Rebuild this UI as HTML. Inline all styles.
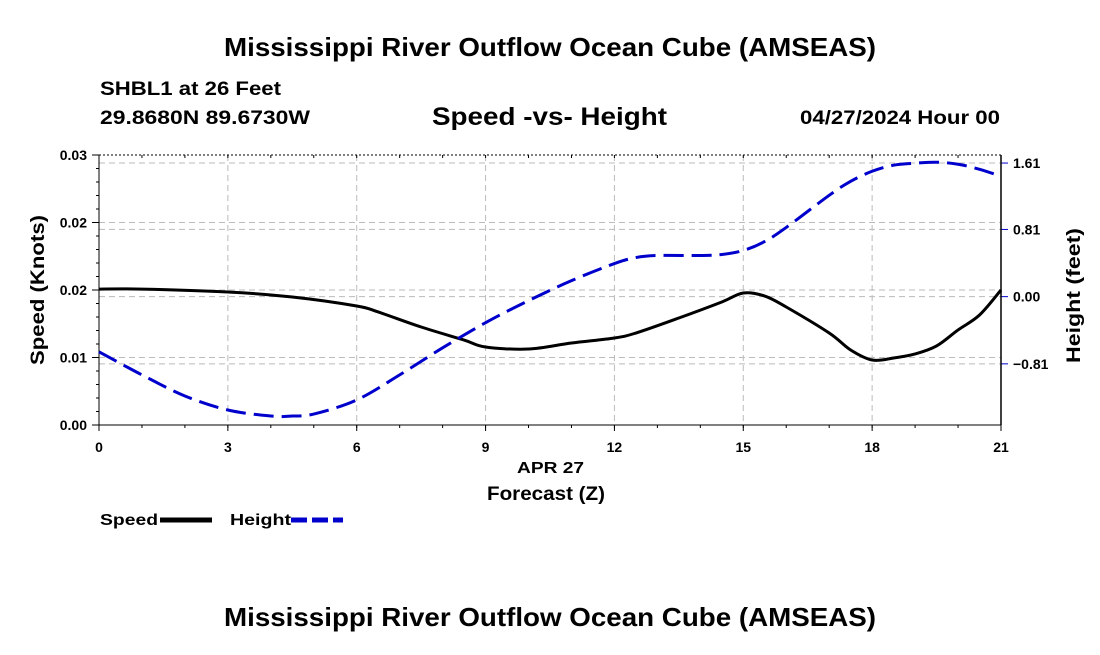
<!DOCTYPE html>
<html><head><meta charset="utf-8"><style>
body{margin:0;background:#fff;width:1100px;height:650px;overflow:hidden;font-family:"Liberation Sans",sans-serif}
</style></head><body>
<svg width="1100" height="650" font-family="Liberation Sans, sans-serif" font-weight="bold">
<text x="224" y="56" font-size="26" textLength="652" lengthAdjust="spacingAndGlyphs">Mississippi River Outflow Ocean Cube (AMSEAS)</text>
<text x="100" y="95" font-size="19" textLength="181" lengthAdjust="spacingAndGlyphs">SHBL1 at 26 Feet</text>
<text x="100" y="124" font-size="19" textLength="210" lengthAdjust="spacingAndGlyphs">29.8680N  89.6730W</text>
<text x="432" y="125" font-size="25" textLength="235" lengthAdjust="spacingAndGlyphs">Speed -vs- Height</text>
<text x="800" y="124" font-size="19" textLength="200" lengthAdjust="spacingAndGlyphs">04/27/2024 Hour 00</text>
<g id="grid"></g>
<g id="axes"></g>
<g id="series"></g>
<text x="517" y="473" font-size="16" textLength="67" lengthAdjust="spacingAndGlyphs">APR 27</text>
<text x="487" y="500" font-size="19" textLength="118" lengthAdjust="spacingAndGlyphs">Forecast (Z)</text>
<text transform="translate(44,365) rotate(-90)" font-size="19" textLength="150" lengthAdjust="spacingAndGlyphs">Speed (Knots)</text>
<text transform="translate(1080,363) rotate(-90)" font-size="19" textLength="135" lengthAdjust="spacingAndGlyphs">Height (feet)</text>
<g><text x="100" y="525" font-size="16" textLength="58" lengthAdjust="spacingAndGlyphs">Speed</text><line x1="160" y1="520" x2="212" y2="520" stroke="#000" stroke-width="5"/></g>
<g><text x="230" y="525" font-size="16" textLength="61" lengthAdjust="spacingAndGlyphs">Height</text><line x1="291" y1="520" x2="343" y2="520" stroke="#00c" stroke-width="5" stroke-dasharray="16,5"/></g>
<text x="224" y="626" font-size="26" textLength="652" lengthAdjust="spacingAndGlyphs">Mississippi River Outflow Ocean Cube (AMSEAS)</text>
</svg>
<script>
const hours=[0,1,3,4.5,6,6.5,7.5,8.5,9,10,11,12,12.5,13.5,14.5,15,15.5,16,17,17.5,18,18.5,19,19.5,20,20.5,21];
const speed=[0.0151,0.0151,0.01478,0.01422,0.01322,0.01256,0.01089,0.00944,0.00867,0.00844,0.00911,0.00967,0.01022,0.01189,0.01367,0.01467,0.01433,0.01311,0.01022,0.00833,0.00722,0.00744,0.00789,0.00878,0.01056,0.01222,0.015];
const hHours=[0,1,2,3,4,4.5,5,6,7,8,9,10,11,12,12.5,13,14,14.5,15,15.5,16,17,17.5,18,18.5,19,19.5,20,20.5,21];
const height=[-0.665,-0.943,-1.197,-1.366,-1.439,-1.439,-1.415,-1.245,-0.943,-0.617,-0.314,-0.048,0.193,0.399,0.471,0.496,0.496,0.508,0.556,0.665,0.834,1.221,1.39,1.511,1.584,1.608,1.62,1.596,1.535,1.451];
const xTicks=[0,3,6,9,12,15,18,21];
const yTicks=[0,0.0075,0.015,0.0225,0.03];
const yTickLabels=["0.00","0.01","0.02","0.02","0.03"];
const y2Ticks=[-0.81,0,0.81,1.61];
const y2TickLabels=["\u22120.81","0.00","0.81","1.61"];
const X0=99,X1=1001,Y0=425,Y1=155;
const H0=-1.547,H1=1.707;
const xs=h=>X0+(h/21)*(X1-X0);
const ys=v=>Y0-(v/0.03)*(Y0-Y1);
const y2s=v=>Y0-(v-H0)/(H1-H0)*(Y0-Y1);
const NS="http://www.w3.org/2000/svg";
function mk(p,tag,a){const e=document.createElementNS(NS,tag);for(const k in a)e.setAttribute(k,a[k]);p.appendChild(e);return e;}
const grid=document.getElementById('grid'),axes=document.getElementById('axes'),ser=document.getElementById('series');
xTicks.forEach(t=>{
 if(t>0&&t<21){const l=mk(grid,'line',{x1:xs(t),x2:xs(t),y1:Y1,y2:Y0,stroke:'#bbb','stroke-dasharray':'6,4'});
 
 }
 const tx=mk(axes,'text',{x:xs(t),y:452,'text-anchor':'middle','font-size':14});tx.textContent=t;
 
 
 mk(axes,'line',{x1:xs(t),x2:xs(t),y1:Y0,y2:Y0+6,stroke:'#000'});
});
for(let h=1;h<21;h++){mk(axes,'line',{x1:xs(h),x2:xs(h),y1:Y0,y2:Y0+3,stroke:'#000'});mk(axes,'line',{x1:xs(h),x2:xs(h),y1:Y1,y2:Y1+3,stroke:'#000'});}
yTicks.forEach((t,i)=>{
 if(t>0&&t<0.03){const l=mk(grid,'line',{x1:X0,x2:X1,y1:ys(t),y2:ys(t),stroke:'#bbb','stroke-dasharray':'6,4'});
 
 }
 mk(axes,'line',{x1:X0-7,x2:X0,y1:ys(t),y2:ys(t),stroke:'#000'});
 const tx=mk(axes,'text',{x:X0-12,y:ys(t)+5,'text-anchor':'end','font-size':14});tx.textContent=yTickLabels[i];
 
 
});
for(let v=0;v<=0.03;v+=0.0015){mk(axes,'line',{x1:X0-3,x2:X0,y1:ys(v),y2:ys(v),stroke:'#000'});}
y2Ticks.forEach((t,i)=>{
 const l=mk(grid,'line',{x1:X0,x2:X1,y1:y2s(t),y2:y2s(t),stroke:'#bbb','stroke-dasharray':'6,4'});
 
 
 mk(axes,'line',{x1:X1,x2:X1+7,y1:y2s(t),y2:y2s(t),stroke:'#00c'});
 const tx=mk(axes,'text',{x:X1+12,y:y2s(t)+5,'font-size':14});tx.textContent=y2TickLabels[i];
 
 
});
mk(axes,'line',{x1:X0,x2:X1,y1:Y1,y2:Y1,stroke:'#000','stroke-dasharray':'2,2'});
mk(axes,'line',{x1:X0,x2:X1,y1:Y0,y2:Y0,stroke:'#000'});
mk(axes,'line',{x1:X0,x2:X0,y1:Y1,y2:Y0,stroke:'#000'});
mk(axes,'line',{x1:X1,x2:X1,y1:Y1,y2:Y0,stroke:'#000','stroke-width':1.5});
function smooth(pts){let d=`M${pts[0][0]},${pts[0][1]}`;for(let i=0;i<pts.length-1;i++){const p0=pts[Math.max(0,i-1)],p1=pts[i],p2=pts[i+1],p3=pts[Math.min(pts.length-1,i+2)];
 d+=` C${p1[0]+(p2[0]-p0[0])/6},${p1[1]+(p2[1]-p0[1])/6} ${p2[0]-(p3[0]-p1[0])/6},${p2[1]-(p3[1]-p1[1])/6} ${p2[0]},${p2[1]}`;}return d;}
const sp=mk(ser,'path',{d:smooth(hours.map((h,i)=>[xs(h),ys(speed[i])])),fill:'none',stroke:'#000','stroke-width':3});


const hp=mk(ser,'path',{d:smooth(hHours.map((h,i)=>[xs(h),y2s(height[i])])),fill:'none',stroke:'#00c','stroke-width':3,'stroke-dasharray':'20,8'});


</script>
</body></html>
